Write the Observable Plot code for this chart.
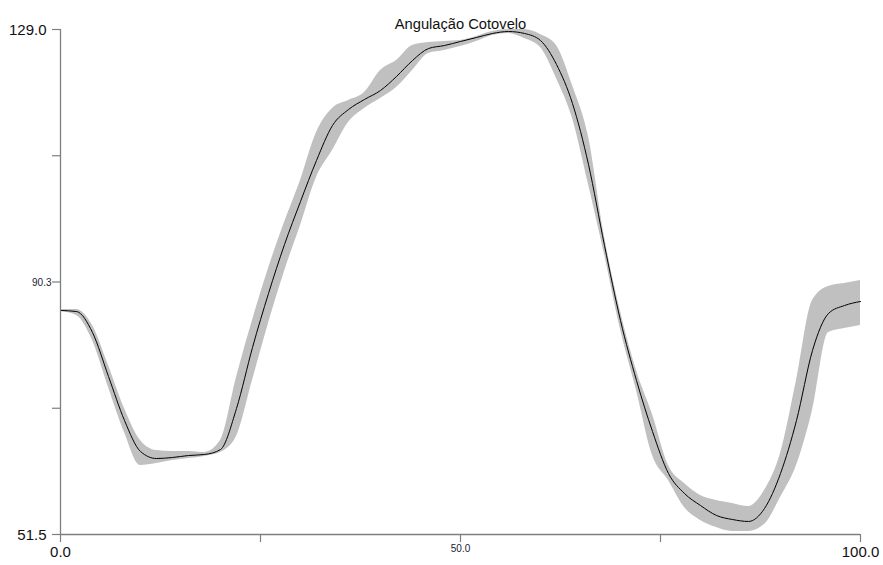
<!DOCTYPE html>
<html>
<head>
<meta charset="utf-8">
<script src="https://cdn.jsdelivr.net/npm/d3@7"></script>
<script src="https://cdn.jsdelivr.net/npm/@observablehq/plot@0.6"></script>
<style>
  html, body { margin: 0; padding: 0; background: #fff; }
  #chart svg { display: block; }
</style>
</head>
<body>
<div id="chart"></div>
<script>
const title = "Angulação Cotovelo";
// percent of cycle
const cycle = [0,2,4,6,8,10,12,14,16,18,20,22,24,26,28,30,32,34,36,38,40,42,44,46,48,50,
  52,54,56,58,60,62,64,66,68,70,72,74,76,78,80,82,84,86,88,90,92,94,96,98,100];
// mean elbow angle (degrees)
const meanAngle = [85.88,85.72,82.50,75.75,69.00,64.24,63.16,63.32,63.62,63.78,64.54,70.84,80.20,88.49,96.00,102.60,
  108.90,114.27,116.72,118.26,119.64,121.79,124.24,126.08,126.54,127.16,127.77,128.39,128.69,128.39,127.31,123.63,
  117.64,108.28,95.85,84.34,75.13,67.31,60.86,57.79,55.95,54.42,53.80,53.50,55.49,60.86,69.00,79.74,85.42,86.64,87.26];
// mean + SD
const upperAngle = [86.03,86.03,83.57,77.44,70.84,65.93,64.39,64.24,64.24,64.08,65.93,75.59,84.34,92.32,99.38,105.83,
  113.19,116.88,118.10,119.33,122.71,124.24,126.54,127.00,127.16,127.31,127.93,128.69,129.00,129.00,128.23,126.54,
  120.40,112.58,97.23,85.72,76.67,69.92,62.09,59.33,57.49,56.72,56.26,55.80,58.25,63.93,75.13,87.41,89.56,90.02,90.48];
// mean - SD
const lowerAngle = [85.72,85.11,81.27,74.06,67.15,62.09,62.40,62.86,63.16,63.47,64.08,66.54,75.13,83.88,91.86,98.92,
  106.29,110.43,114.73,116.88,118.41,120.10,122.71,125.32,125.78,126.39,127.16,128.08,128.39,127.62,126.24,121.48,
  115.34,105.21,94.47,82.96,73.60,63.62,59.79,55.64,53.65,52.57,51.96,51.96,53.03,57.18,62.09,70.53,82.50,83.11,83.57];

const yTicks = [51.5, 70.875, 90.25, 109.625, 129.0];
const yLabelsBig = [{v: 51.5, t: "51.5"}, {v: 129.0, t: "129.0"}];
const yLabelsSmall = [{v: 90.25, t: "90.3"}];
const xTicks = [0, 25, 50, 75, 100];
const xLabelsBig = [{v: 0, t: "0.0"}, {v: 100, t: "100.0"}];
const xLabelsSmall = [{v: 50, t: "50.0"}];

const data = cycle.map((c, i) => ({c, m: meanAngle[i], lo: lowerAngle[i], hi: upperAngle[i]}));

const axisColor = "#7f7f7f";
const font = "'Liberation Sans', Arial, sans-serif";

const chart = Plot.plot({
  width: 883,
  height: 565,
  marginLeft: 60,
  marginRight: 23,
  marginTop: 29,
  marginBottom: 31,
  style: {fontFamily: font, background: "#fff"},
  x: {domain: [0, 100], axis: null},
  y: {domain: [51.5, 129.0], axis: null},
  marks: [
    Plot.areaY(data, {x: "c", y1: "lo", y2: "hi", fill: "#c0c0c0", curve: "monotone-x"}),
    Plot.lineY(data, {x: "c", y: "m", stroke: "#000", strokeWidth: 1, curve: "monotone-x"}),
    Plot.ruleX([0], {stroke: axisColor, strokeWidth: 1.3}),
    Plot.ruleY([51.5], {stroke: axisColor, strokeWidth: 1.3}),
    Plot.axisY(yTicks, {tickSize: 8, tickFormat: () => "", stroke: axisColor, strokeWidth: 1.2}),
    Plot.axisX(xTicks, {tickSize: 8, tickFormat: () => "", stroke: axisColor, strokeWidth: 1.2}),
    Plot.text(yLabelsBig, {y: "v", text: "t", frameAnchor: "left", dx: -14, dy: 1, textAnchor: "end", fontSize: 15, fill: "#111"}),
    Plot.text(yLabelsSmall, {y: "v", text: "t", frameAnchor: "left", dx: -9, dy: 1, textAnchor: "end", fontSize: 10, fill: "#223"}),
    Plot.text(xLabelsBig, {x: "v", text: "t", frameAnchor: "bottom", dy: 22, fontSize: 15, fill: "#111"}),
    Plot.text(xLabelsSmall, {x: "v", text: "t", frameAnchor: "bottom", dy: 17, fontSize: 10, fill: "#223"}),
    Plot.text([title], {frameAnchor: "top", dy: -11, fontSize: 14.7, fill: "#111"})
  ]
});
document.getElementById("chart").appendChild(chart);
</script>
</body>
</html>
